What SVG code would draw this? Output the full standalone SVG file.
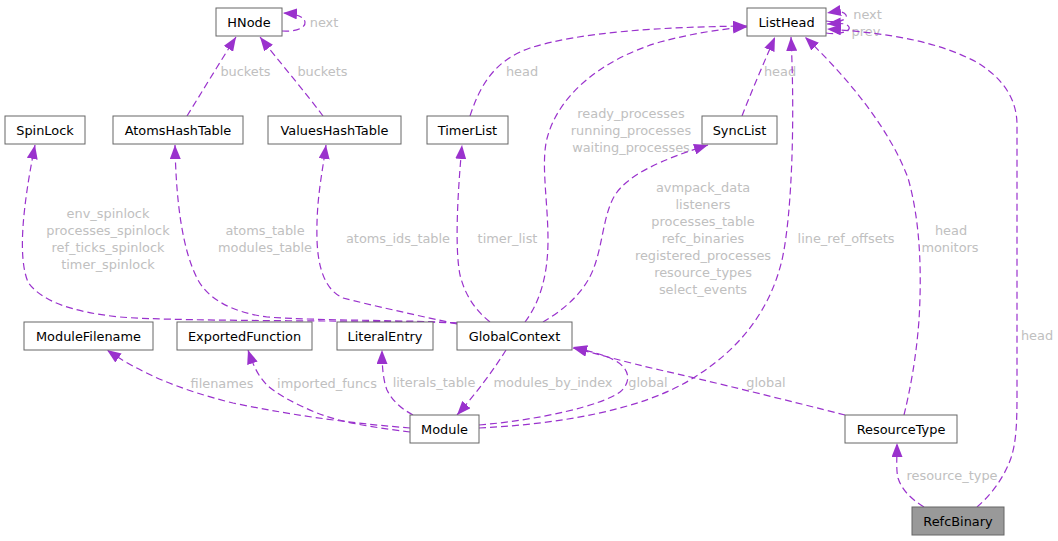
<svg xmlns="http://www.w3.org/2000/svg" width="1058" height="541" viewBox="0 0 1058 541">
<style>
.node rect{fill:#ffffff;stroke:#666666;stroke-width:1}
.node rect.hl{fill:#999999}
.node text{font-family:"DejaVu Sans",sans-serif;font-size:12.9px;text-anchor:middle;fill:#000000}
.edge path{fill:none;stroke:#9a32cd;stroke-width:1.2;stroke-dasharray:7,4;marker-end:url(#arr)}
.lbl{font-family:"DejaVu Sans",sans-serif;font-size:12.9px;text-anchor:middle;fill:#c0c0c0}
</style>
<defs>
<marker id="arr" viewBox="0 0 14 11" refX="14" refY="5.5" markerWidth="14" markerHeight="11" markerUnits="userSpaceOnUse" orient="auto">
<path d="M0,0 L14,5.5 L0,11 z" fill="#9a32cd"/>
</marker>
</defs>
<rect width="1058" height="541" fill="#ffffff"/>
<g id="edges">
<g class="edge"><path d="M282,31 C295,32 306,28 305,22 C304,17 298,14 283,13"/><text class="lbl" x="324" y="26.5">next</text></g>
<g class="edge"><path d="M187,116 C200,95 220,62 236,37"/><text class="lbl" x="245.5" y="75.5">buckets</text></g>
<g class="edge"><path d="M323,116 C305,92 278,60 260,37"/><text class="lbl" x="322.5" y="75.5">buckets</text></g>
<g class="edge"><path d="M457,323 C400,320 180,322 120,317 C70,312 40,300 28,282 C18,258 22,210 35,145"/>
<text class="lbl" x="108" y="217.5">env_spinlock</text><text class="lbl" x="108" y="234.5">processes_spinlock</text><text class="lbl" x="108" y="251.5">ref_ticks_spinlock</text><text class="lbl" x="108" y="268.5">timer_spinlock</text></g>
<g class="edge"><path d="M457,323 C420,320 320,321 267,317 C230,312 208,298 198,280 C182,250 176,200 175,145"/>
<text class="lbl" x="265" y="234.5">atoms_table</text><text class="lbl" x="265" y="251.5">modules_table</text></g>
<g class="edge"><path d="M457,324 C420,316 370,305 343,298 C325,290 318,268 317,240 C316,200 322,175 326,145"/><text class="lbl" x="398" y="242.5">atoms_ids_table</text></g>
<g class="edge"><path d="M490,322 C475,310 465,295 460,275 C455,250 457,200 462,145"/><text class="lbl" x="507.5" y="242.5">timer_list</text></g>
<g class="edge"><path d="M470,116 C480,85 495,60 530,48 C580,32 660,27 747,26"/><text class="lbl" x="522" y="75.5">head</text></g>
<g class="edge"><path d="M525,322 C540,302 548,275 548,240 C548,200 540,160 548,135 C560,95 600,60 660,42 C690,34 720,29 747,27"/>
<text class="lbl" x="631" y="117.5">ready_processes</text><text class="lbl" x="631" y="134.5">running_processes</text><text class="lbl" x="631" y="151.5">waiting_processes</text></g>
<g class="edge"><path d="M543,322 C560,312 583,295 593,270 C603,245 603,215 615,195 C628,175 660,160 708,145"/>
<text class="lbl" x="703" y="191.5">avmpack_data</text><text class="lbl" x="703" y="208.5">listeners</text><text class="lbl" x="703" y="225.5">processes_table</text><text class="lbl" x="703" y="242.5">refc_binaries</text><text class="lbl" x="703" y="259.5">registered_processes</text><text class="lbl" x="703" y="276.5">resource_types</text><text class="lbl" x="703" y="293.5">select_events</text></g>
<g class="edge"><path d="M742,116 C750,95 765,60 775,37"/><text class="lbl" x="780" y="75.5">head</text></g>
<g class="edge"><path d="M479,428 C560,424 640,410 690,380 C740,350 770,310 782,260 C792,215 795,120 791,37"/><text class="lbl" x="846" y="242.5">line_ref_offsets</text></g>
<g class="edge"><path d="M479,425 C540,420 603,405 620,392 C632,382 630,368 614,360 C602,354 588,351 573,347"/><text class="lbl" x="648" y="386.5">global</text></g>
<g class="edge"><path d="M845,415 C790,401 705,380 660,370 C625,362 598,354 573,348"/><text class="lbl" x="766" y="386.5">global</text></g>
<g class="edge"><path d="M506,350 C495,368 475,395 457,415"/><text class="lbl" x="553" y="386.5">modules_by_index</text></g>
<g class="edge"><path d="M410,428 C360,424 300,417 233,403 C180,390 140,373 107,350"/><text class="lbl" x="222" y="387.5">filenames</text></g>
<g class="edge"><path d="M410,432 C380,428 345,424 317,413 C295,404 275,393 267,385 C258,376 253,365 248,350"/><text class="lbl" x="327" y="387.5">imported_funcs</text></g>
<g class="edge"><path d="M413,415 C400,408 392,400 387,390 C383,380 382,365 382,350"/><text class="lbl" x="434" y="386.5">literals_table</text></g>
<g class="edge"><path d="M904,415 C910,390 916,360 919,320 C922,270 920,220 908,178 C890,130 850,80 805,37"/>
<text class="lbl" x="951" y="234.5">head</text><text class="lbl" x="950" y="251.5">monitors</text></g>
<g class="edge"><path d="M826,21 C838,23 848,20 846,15 C844,11 838,11 827,13"/><text class="lbl" x="867.5" y="18.5">next</text></g>
<g class="edge"><path d="M826,33 C840,35 851,31 849,27 C847,23 840,23 827,24"/><text class="lbl" x="866" y="35.5">prev</text></g>
<g class="edge"><path d="M977,507 C990,496 1004,478 1011,458 C1016,443 1017,425 1017,395 L1017,125 C1017,98 1002,78 978,63 C940,42 890,33 827,29"/><text class="lbl" x="1037" y="339.5">head</text></g>
<g class="edge"><path d="M924,507 C910,498 902,490 898,478 C896,470 897,458 897,443"/><text class="lbl" x="952" y="479.5">resource_type</text></g>
</g>
<g id="node-HNode" class="node"><rect x="216" y="8" width="66" height="28"/><text x="249" y="26.5">HNode</text></g>
<g id="node-ListHead" class="node"><rect x="747" y="8" width="79" height="28"/><text x="786.5" y="26.5">ListHead</text></g>
<g id="node-SpinLock" class="node"><rect x="5" y="116" width="80" height="28"/><text x="45" y="134.5">SpinLock</text></g>
<g id="node-AtomsHashTable" class="node"><rect x="113" y="116" width="130" height="28"/><text x="178" y="134.5">AtomsHashTable</text></g>
<g id="node-ValuesHashTable" class="node"><rect x="268" y="116" width="133" height="28"/><text x="334.5" y="134.5">ValuesHashTable</text></g>
<g id="node-TimerList" class="node"><rect x="427" y="116" width="81" height="28"/><text x="467.5" y="134.5">TimerList</text></g>
<g id="node-SyncList" class="node"><rect x="702" y="116" width="75" height="28"/><text x="739.5" y="134.5">SyncList</text></g>
<g id="node-ModuleFilename" class="node"><rect x="24" y="322" width="129" height="28"/><text x="88.5" y="340.5">ModuleFilename</text></g>
<g id="node-ExportedFunction" class="node"><rect x="177" y="322" width="135" height="28"/><text x="244.5" y="340.5">ExportedFunction</text></g>
<g id="node-LiteralEntry" class="node"><rect x="337" y="322" width="96" height="28"/><text x="385" y="340.5">LiteralEntry</text></g>
<g id="node-GlobalContext" class="node"><rect x="457" y="322" width="115" height="28"/><text x="514.5" y="340.5">GlobalContext</text></g>
<g id="node-Module" class="node"><rect x="410" y="415" width="69" height="28"/><text x="444.5" y="433.5">Module</text></g>
<g id="node-ResourceType" class="node"><rect x="845" y="415" width="112" height="28"/><text x="901" y="433.5">ResourceType</text></g>
<g id="node-RefcBinary" class="node"><rect class="hl" x="912" y="507" width="92" height="28"/><text x="958" y="525.5">RefcBinary</text></g>
</svg>
